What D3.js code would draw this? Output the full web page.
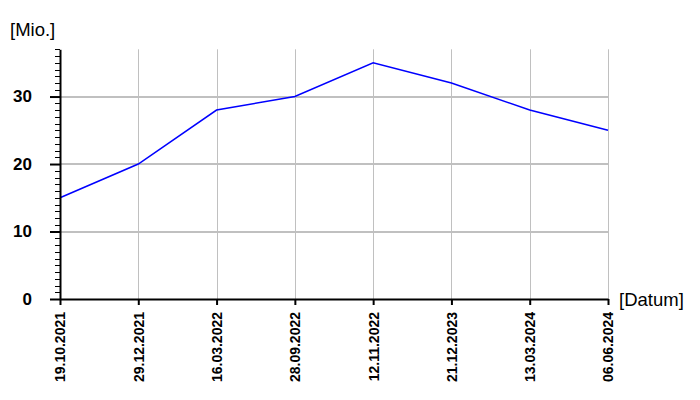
<!DOCTYPE html>
<html>
<head>
<meta charset="utf-8">
<script src="https://cdn.jsdelivr.net/npm/d3@7"></script>
<style>
html,body{margin:0;padding:0;background:#fff;}
svg{display:block;}
text{font-family:"Liberation Sans",Arial,sans-serif;fill:#000;}
</style>
</head>
<body>
<svg id="chart" width="700" height="400"></svg>
<script>
const categories = ["19.10.2021","29.12.2021","16.03.2022","28.09.2022","12.11.2022","21.12.2023","13.03.2024","06.06.2024"];
const values = [15, 20, 28, 30, 35, 32, 28, 25];
const yMajorTicks = [0, 10, 20, 30];
const yLabel = "[Mio.]";
const xLabel = "[Datum]";

const svg = d3.select("#chart");
const x = d3.scalePoint().domain(categories).range([60, 608]);
const y = d3.scaleLinear().domain([0, 37]).range([299, 49.3]);

// grid
const grid = svg.append("g");
grid.selectAll("line.h").data(yMajorTicks.filter(d => d > 0)).join("line")
  .attr("x1", x.range()[0]).attr("x2", x.range()[1])
  .attr("y1", d => Math.round(y(d))).attr("y2", d => Math.round(y(d)))
  .attr("stroke", "#c0c0c0").attr("stroke-width", 2);
grid.selectAll("line.v").data(categories.slice(1)).join("line")
  .attr("x1", d => Math.round(x(d)) + 0.5).attr("x2", d => Math.round(x(d)) + 0.5)
  .attr("y1", y(37)).attr("y2", y(0))
  .attr("stroke", "#c0c0c0").attr("stroke-width", 1);

// line
svg.append("path").datum(values)
  .attr("fill", "none").attr("stroke", "#0000ff").attr("stroke-width", 1.5)
  .attr("d", d3.line().x((d, i) => x(categories[i])).y(d => y(d)));

// y axis minor ticks
const yMinor = svg.append("g").attr("transform", "translate(60,0)")
  .call(d3.axisLeft(y).tickValues(d3.range(0, 38)).tickSize(5).tickFormat(""));
yMinor.select(".domain").remove();
yMinor.selectAll("line").attr("stroke", "#000").attr("stroke-width", 1).attr("shape-rendering", "crispEdges");

// y axis major
const yAxis = svg.append("g").attr("transform", "translate(60,0)")
  .call(d3.axisLeft(y).tickValues(yMajorTicks).tickSize(10).tickSizeOuter(0).tickPadding(18));
yAxis.select(".domain").attr("stroke", "#000").attr("stroke-width", 2);
yAxis.selectAll(".tick line").attr("stroke", "#000").attr("stroke-width", 2);
yAxis.selectAll(".tick text").style("font-size", "17px").style("font-weight", "bold")
  .style("font-family", "'Liberation Sans',Arial,sans-serif");

// x axis
const xAxis = svg.append("g").attr("transform", "translate(0,299)")
  .call(d3.axisBottom(x).tickSize(6).tickSizeOuter(0));
xAxis.select(".domain").attr("stroke", "#000").attr("stroke-width", 2);
xAxis.selectAll(".tick line").attr("stroke", "#000").attr("stroke-width", 2);
xAxis.selectAll(".tick text")
  .style("font-size", "14px").style("font-weight", "bold")
  .style("font-family", "'Liberation Sans',Arial,sans-serif")
  .attr("transform", "rotate(-90)")
  .attr("text-anchor", "end")
  .attr("x", -13).attr("y", 0).attr("dy", "0.35em");

// axis titles
svg.append("text").attr("x", 10).attr("y", 36).style("font-size", "18.5px").text(yLabel);
svg.append("text").attr("x", 619).attr("y", 306).style("font-size", "18.5px").text(xLabel);
</script>
</body>
</html>
